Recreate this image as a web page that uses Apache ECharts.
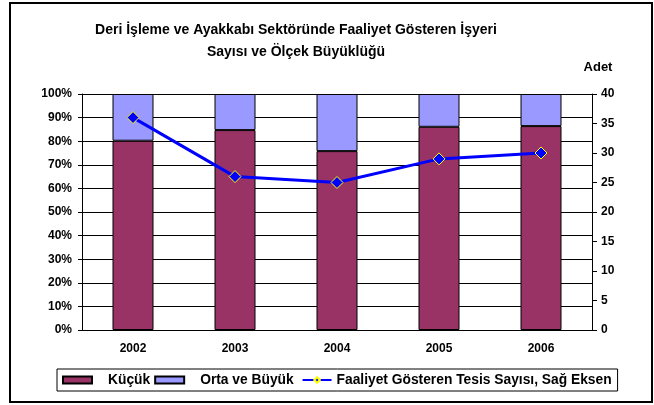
<!DOCTYPE html>
<html>
<head>
<meta charset="utf-8">
<script src="https://cdn.jsdelivr.net/npm/echarts@6/dist/echarts.min.js"></script>
<style>
  html, body { margin: 0; padding: 0; background: #fff; }
  #chart { width: 654px; height: 405px; }
</style>
</head>
<body>
<div id="chart"></div>
<script>
const years = ['2002', '2003', '2004', '2005', '2006']
const kucuk = [80.2, 84.7, 75.8, 86.1, 86.4]          // %
const ortaBuyuk = [19.8, 15.3, 24.2, 13.9, 13.6]      // %
const tesisSayisi = [36, 26, 25, 29, 30]              // adet, sağ eksen

const fontFamily = '"Liberation Sans", Arial, sans-serif'
const labelStyle = { color: '#000', fontSize: 12, fontWeight: 'bold', fontFamily }

const chart = echarts.init(document.getElementById('chart'))

chart.setOption({
  animation: false,
  title: {
    text: 'Deri İşleme ve Ayakkabı Sektöründe Faaliyet Gösteren İşyeri\nSayısı ve Ölçek Büyüklüğü',
    left: 291,
    top: 14,
    textAlign: 'center',
    textStyle: { color: '#000', fontSize: 14, fontWeight: 'bold', fontFamily, lineHeight: 22 },
  },
  graphic: [
    {
      type: 'rect',
      shape: { x: 10, y: 3, width: 642, height: 399 },
      style: { fill: 'none', stroke: '#000', lineWidth: 2 },
      silent: true,
    },
  ],
  legend: {
    left: 57,
    top: 369,
    padding: [4, 6, 4, 5],
    borderColor: '#000',
    borderWidth: 1,
    itemGap: 4,
    itemWidth: 29,
    itemHeight: 7,
    textStyle: { ...labelStyle, fontSize: 13.8 },
    // "Orta ve Büyük" sonrası biraz boşluk
    formatter: name => (name === 'Orta ve Büyük' ? 'Orta ve Büyük\u00a0' : name),
    data: [
      { name: 'Küçük', icon: 'rect', textStyle: { padding: [0, 0, 0, 11] } },
      { name: 'Orta ve Büyük', icon: 'rect', textStyle: { padding: [0, 0, 0, 11] } },
      { name: 'Faaliyet Gösteren Tesis Sayısı, Sağ Eksen' },
    ],
  },
  grid: { left: 82, right: 62, top: 94, bottom: 75 },
  xAxis: {
    type: 'category',
    data: years,
    axisLine: { lineStyle: { color: '#000', width: 1 } },
    axisTick: { length: 4, lineStyle: { color: '#000' } },
    axisLabel: { ...labelStyle, margin: 13 },
  },
  yAxis: [
    {
      type: 'value',
      min: 0,
      max: 100,
      interval: 10,
      axisLine: { show: true, lineStyle: { color: '#000' } },
      axisTick: { show: true, length: 4, lineStyle: { color: '#000' } },
      axisLabel: { ...labelStyle, margin: 10, formatter: '{value}%' },
      splitLine: { lineStyle: { color: '#000', width: 1 } },
    },
    {
      type: 'value',
      min: 0,
      max: 40,
      interval: 5,
      name: 'Adet',
      nameLocation: 'end',
      nameGap: 20,
      nameTextStyle: { ...labelStyle, fontSize: 13, padding: [0, 0, 0, 12] },
      axisLine: { show: true, lineStyle: { color: '#000' } },
      axisTick: { show: true, length: 5, lineStyle: { color: '#000' } },
      axisLabel: { ...labelStyle, margin: 9 },
      splitLine: { show: false },
    },
  ],
  series: [
    {
      name: 'Küçük',
      type: 'bar',
      stack: 'olcek',
      barWidth: 41,
      data: kucuk,
      itemStyle: { color: '#993366', borderColor: '#000', borderWidth: 1 },
    },
    {
      name: 'Orta ve Büyük',
      type: 'bar',
      stack: 'olcek',
      barWidth: 41,
      data: ortaBuyuk,
      itemStyle: { color: '#9999FF', borderColor: '#000', borderWidth: 1 },
    },
    {
      name: 'Faaliyet Gösteren Tesis Sayısı, Sağ Eksen',
      type: 'line',
      yAxisIndex: 1,
      data: tesisSayisi,
      symbol: 'diamond',
      symbolSize: 12,
      lineStyle: { color: '#0000FF', width: 3 },
      itemStyle: { color: '#0000FF', borderColor: '#FFFF00', borderWidth: 1 },
      z: 5,
    },
  ],
})
</script>
</body>
</html>
